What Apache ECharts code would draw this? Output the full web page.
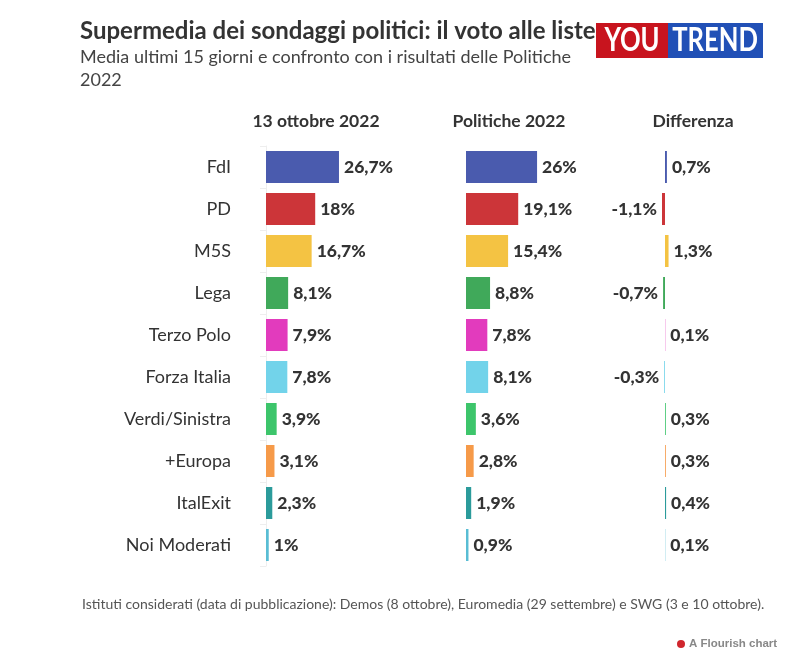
<!DOCTYPE html>
<html>
<head>
<meta charset="utf-8">
<script src="https://cdn.jsdelivr.net/npm/echarts@6/dist/echarts.min.js"></script>
<style>
html,body{margin:0;padding:0;background:#fff;}
#chart{width:800px;height:660px;}
</style>
</head>
<body>
<div id="chart"></div>
<script>
const categories = ['FdI','PD','M5S','Lega','Terzo Polo','Forza Italia','Verdi/Sinistra','+Europa','ItalExit','Noi Moderati'];
const valuesOct = [26.7, 18, 16.7, 8.1, 7.9, 7.8, 3.9, 3.1, 2.3, 1];
const valuesPol = [26, 19.1, 15.4, 8.8, 7.8, 8.1, 3.6, 2.8, 1.9, 0.9];
const valuesDiff = [0.7, -1.1, 1.3, -0.7, 0.1, -0.3, 0.3, 0.3, 0.4, 0.1];
const colors = ['#4a5bae','#cc3539','#f4c343','#40a95a','#e23bbd','#72d3ea','#3dc56b','#f69a49','#2b9b9b','#59bdd4'];
const headers = ['13 ottobre 2022','Politiche 2022','Differenza'];

const FONT = 'Lato';
const fmt = v => String(v).replace('.', ',') + '%';

const chart = echarts.init(document.getElementById('chart'), null, {renderer:'canvas'});

const gridTop = 146, gridH = 420;
function grid(left, width){ return {left:left, top:gridTop, width:width, height:gridH, containLabel:false}; }

const labelStyle = {fontFamily:FONT, fontWeight:900, fontSize:17.5, color:'#333'};

function mkData(vals){
  return vals.map((v,i)=>({value:v, itemStyle:{color:colors[i]}}));
}

const option = {
  animation:false,
  backgroundColor:'#fff',
  grid:[grid(266,82), grid(466,82), grid(637.7,54.6)],
  xAxis:[
    {gridIndex:0, type:'value', min:0, max:30, show:false},
    {gridIndex:1, type:'value', min:0, max:30, show:false},
    {gridIndex:2, type:'value', min:-10, max:10, show:false}
  ],
  yAxis:[
    {gridIndex:0, type:'category', data:categories, inverse:true, offset:14,
      axisLine:{show:true, lineStyle:{color:'#eeeeee'}},
      axisTick:{show:true, length:6, lineStyle:{color:'#eeeeee'}},
      axisLabel:{fontFamily:FONT, fontSize:18, color:'#333', margin:21}},
    {gridIndex:1, type:'category', data:categories, inverse:true, show:false},
    {gridIndex:2, type:'category', data:categories, inverse:true, show:false}
  ],
  series:[
    {type:'bar', xAxisIndex:0, yAxisIndex:0, barWidth:32, data:mkData(valuesOct),
      label:Object.assign({show:true, position:'right', distance:5, formatter:p=>fmt(p.value)}, labelStyle)},
    {type:'bar', xAxisIndex:1, yAxisIndex:1, barWidth:32, data:mkData(valuesPol),
      label:Object.assign({show:true, position:'right', distance:5, formatter:p=>fmt(p.value)}, labelStyle)},
    {type:'bar', xAxisIndex:2, yAxisIndex:2, barWidth:32,
      data:valuesDiff.map((v,i)=>({value:v, itemStyle:{color:colors[i]},
        label:{position: v<0 ? 'left':'right'}})),
      label:Object.assign({show:true, distance:5, formatter:p=>fmt(p.value)}, labelStyle)}
  ],
  graphic:[
    {type:'text', left:80, top:19, style:{text:'Supermedia dei sondaggi politici: il voto alle liste', fontFamily:FONT, fontWeight:'bold', fontSize:24, fill:'#333'}},
    {type:'text', left:80, top:46, style:{text:'Media ultimi 15 giorni e confronto con i risultati delle Politiche\n2022', fontFamily:FONT, fontSize:18, lineHeight:23, fill:'#444'}},
    {type:'rect', shape:{x:596, y:23, width:72, height:35}, style:{fill:'#c8141e'}},
    {type:'rect', shape:{x:668, y:23, width:95, height:35}, style:{fill:'#2150b6'}},
    {type:'text', x:632, y:41, scaleX:0.8, style:{text:'YOU', fontFamily:FONT, fontWeight:'bold', fontSize:32, fill:'#fff', align:'center', verticalAlign:'middle'}},
    {type:'text', x:715, y:41, scaleX:0.8, style:{text:'TREND', fontFamily:FONT, fontWeight:'bold', fontSize:32, fill:'#fff', align:'center', verticalAlign:'middle'}},
    {type:'text', x:316, y:121, style:{text:headers[0], fontFamily:FONT, fontWeight:'bold', fontSize:17.5, fill:'#333', align:'center', verticalAlign:'middle'}},
    {type:'text', x:509, y:121, style:{text:headers[1], fontFamily:FONT, fontWeight:'bold', fontSize:17.5, fill:'#333', align:'center', verticalAlign:'middle'}},
    {type:'text', x:693, y:121, style:{text:headers[2], fontFamily:FONT, fontWeight:'bold', fontSize:17.5, fill:'#333', align:'center', verticalAlign:'middle'}},
    {type:'text', x:82, y:604, style:{text:'Istituti considerati (data di pubblicazione): Demos (8 ottobre), Euromedia (29 settembre) e SWG (3 e 10 ottobre).', fontFamily:FONT, fontSize:14, fill:'#555', verticalAlign:'middle'}},
    {type:'circle', shape:{cx:681, cy:644, r:4}, style:{fill:'#d0262d'}},
    {type:'text', x:689, y:644, style:{text:'A Flourish chart', fontFamily:'Liberation Sans', fontWeight:'bold', fontSize:11.5, fill:'#888', verticalAlign:'middle'}}
  ]
};
chart.setOption(option);
</script>
</body>
</html>
